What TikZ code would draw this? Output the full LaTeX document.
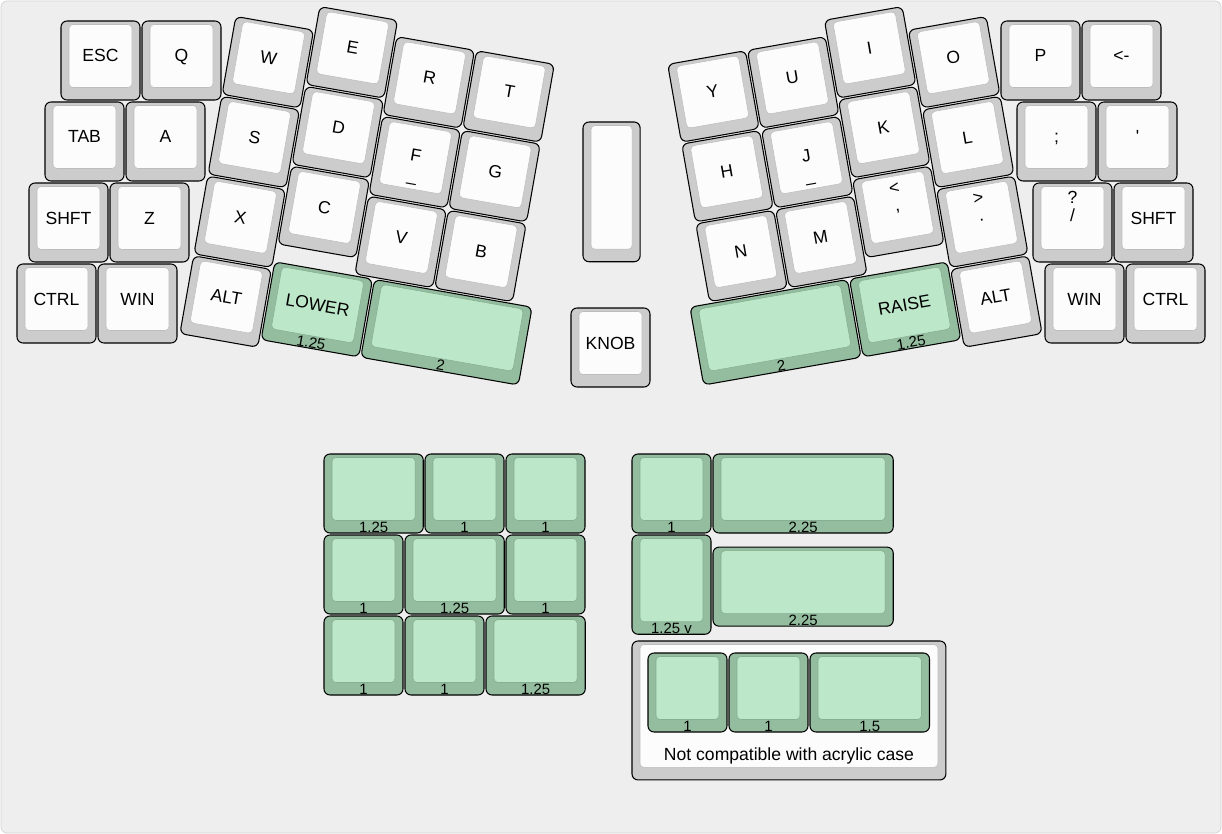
\documentclass[tikz,border=0pt]{standalone}
\usepackage{fontspec}
\setmainfont{Liberation Sans}

\definecolor{greyside}{HTML}{CCCCCC}
\definecolor{greytop}{HTML}{FCFCFC}
\definecolor{greyline}{HTML}{BDBDBD}
\definecolor{greenside}{HTML}{93BD9E}
\definecolor{greentop}{HTML}{BDE7C9}
\definecolor{greenline}{HTML}{86AE91}
\definecolor{deskfill}{HTML}{EEEEEE}
\definecolor{deskline}{HTML}{D4D4D4}

\tikzset{
  keyside/.style={draw=black, line width=0.6pt, rounded corners=1.2mm},
  keytop/.style={line width=0.3pt, rounded corners=0.8mm},
  keylabel/.style={anchor=base, inner sep=0pt, transform shape, font=\fontsize{10}{12}\selectfont},
  frontlabel/.style={anchor=base, inner sep=0pt, transform shape, font=\fontsize{8.5}{10}\selectfont},
}

% x, y of the key cell in px, w, h in key units, colour
\newcommand{\keyshape}[5]{%
  \draw[keyside, fill=#5side] ({#1+1},{#2+1}) rectangle ++({81*#3-2},{81*#4-2});
  \draw[keytop, draw=#5line, fill=#5top] ({#1+9},{#2+4.5}) rectangle ++({81*#3-18},{81*#4-18});
}
\newcommand{\keycap}[7]{%
  \keyshape{#1}{#2}{#3}{#4}{#5}
  \node[keylabel] (#6) at ({#1+40.5*#3},{#2+40.5*#4+1.5}) {#7};
}
% two line legend on a 1u grey key
\newcommand{\keyduo}[5]{%
  \keyshape{#1}{#2}{1}{1}{grey}
  \node[keylabel] (#3) at ({#1+40.5},{#2+22}) {#4};
  \node[keylabel] (#3-lo) at ({#1+40.5},{#2+39.5}) {#5};
}
% home row key with the bar under its letter
\newcommand{\keybar}[4]{%
  \keyshape{#1}{#2}{1}{1}{grey}
  \node[keylabel] (#3) at ({#1+40.5},{#2+40}) {#4};
  \node[keylabel] (#3-bar) at ({#1+40.5},{#2+60}) {\_};
}
% size note on the front of a key
\newcommand{\keyfront}[6]{%
  \node[frontlabel] (#5) at ({#1+40.5*#3},{#2+81*#4-1.7}) {#6};
}

\begin{document}
\begin{tikzpicture}[x=0.2mm, y=-0.2mm]
  \useasboundingbox (0,0) rectangle (1222,834);
  \fill[white] (0,0) rectangle (1222,834);
  \draw[deskline, fill=deskfill, rounded corners=1.2mm] (1,1) rectangle (1221,833);

  % left hand, straight part
  \foreach \px/\py/\id/\lbl in {60/20/esc/ESC, 141/20/q/Q, 44/101/tab/TAB, 125/101/a/A,
      28/182/lshift/SHFT, 109/182/z/Z, 16/263/lctrl/CTRL, 97/263/lwin/WIN}
    {\keycap{\px}{\py}{1}{1}{grey}{\id}{\lbl}}

  % left hand, turned part
  \begin{scope}[shift={(235,15.3)}, rotate=-10]
    \foreach \col/\row/\id/\lbl in {0/0/w/W, 0/1/s/S, 0/2/x/X, 0/3/lalt/ALT,
        1/-0.3/e/E, 1/0.7/d/D, 1/1.7/c/C, 2/-0.1/r/R, 2/1.9/v/V,
        3/-0.1/t/T, 3/0.9/g/G, 3/1.9/b/B}
      {\keycap{81*\col}{81*\row}{1}{1}{grey}{\id}{\lbl}}
    \keybar{81*2}{81*0.9}{f}{F}
    \keycap{81}{81*2.9}{1.25}{1}{green}{lower}{LOWER}
    \keyfront{81}{81*2.9}{1.25}{1}{lower-size}{1.25}
    \keyshape{81*2.25}{81*2.9}{2}{1}{green}
    \keyfront{81*2.25}{81*2.9}{2}{1}{lspace-size}{2}
  \end{scope}

  % middle
  \keyshape{582}{121}{0.73}{1.75}{grey}
  \keycap{570}{307}{1}{1}{grey}{knob}{KNOB}

  % right hand, turned part
  \begin{scope}[shift={(987,15.3)}, rotate=10]
    \foreach \col/\row/\id/\lbl in {-1/0/o/O, -1/1/l/L, -1/3/ralt/ALT,
        -2/-0.3/i/I, -2/0.7/k/K, -3/-0.1/u/U, -3/1.9/m/M,
        -4/-0.1/y/Y, -4/0.9/h/H, -4/1.9/n/N}
      {\keycap{81*\col}{81*\row}{1}{1}{grey}{\id}{\lbl}}
    \keybar{81*-3}{81*0.9}{j}{J}
    \keyduo{81*-2}{81*1.7}{comma}{<}{,}
    \keyduo{81*-1}{81*2}{period}{>}{.}
    \keycap{81*-2.25}{81*2.9}{1.25}{1}{green}{raise}{RAISE}
    \keyfront{81*-2.25}{81*2.9}{1.25}{1}{raise-size}{1.25}
    \keyshape{81*-4.25}{81*2.9}{2}{1}{green}
    \keyfront{81*-4.25}{81*2.9}{2}{1}{rspace-size}{2}
  \end{scope}

  % right hand, straight part
  \foreach \px/\py/\id/\lbl in {1000/20/p/P, 1081/20/bksp/<-, 1016/101/semi/;,
      1097/101/quote/\textquotesingle, 1113/182/rshift/SHFT, 1044/263/rwin/WIN, 1125/263/rctrl/CTRL}
    {\keycap{\px}{\py}{1}{1}{grey}{\id}{\lbl}}
  \keyduo{1032}{182}{slash}{?}{/}

  % spare caps, left group
  \foreach \px/\py/\w/\id/\size in {323/453/1.25/sa/1.25, 424/453/1/sb/1, 505/453/1/sc/1,
      323/534/1/sd/1, 404/534/1.25/se/1.25, 505/534/1/sf/1,
      323/615/1/sg/1, 404/615/1/sh/1, 485/615/1.25/si/1.25}
    {\keyshape{\px}{\py}{\w}{1}{green}
     \keyfront{\px}{\py}{\w}{1}{\id}{\size}}

  % spare caps, right group
  \keyshape{631}{453}{1}{1}{green}
  \keyfront{631}{453}{1}{1}{ta}{1}
  \keyshape{712}{453}{2.25}{1}{green}
  \keyfront{712}{453}{2.25}{1}{tb}{2.25}
  \keyshape{631}{534}{1}{1.25}{green}
  \keyfront{631}{534}{1}{1.25}{tc}{1.25 v}
  \keyshape{712}{546.15}{2.25}{1}{green}
  \keyfront{712}{546.15}{2.25}{1}{td}{2.25}

  % caps for the other case only
  \keyshape{631}{640}{3.9}{1.74}{grey}
  \foreach \px/\w/\id/\size in {647/1/ua/1, 728/1/ub/1, 809/1.5/uc/1.5}
    {\keyshape{\px}{652}{\w}{1}{green}
     \keyfront{\px}{652}{\w}{1}{\id}{\size}}
  \node[keylabel] (note) at (789,760) {Not compatible with acrylic case};
\end{tikzpicture}
\end{document}
